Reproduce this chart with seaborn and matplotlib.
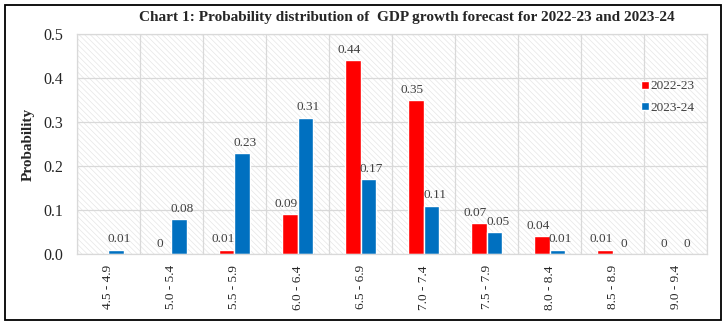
import numpy as np
import pandas as pd
import matplotlib
matplotlib.use("Agg")
import matplotlib.pyplot as plt
from matplotlib.patches import Rectangle
import seaborn as sns

# Growth ranges and probability of each outcome
categories = ["4.5 - 4.9", "5.0 - 5.4", "5.5 - 5.9", "6.0 - 6.4", "6.5 - 6.9",
              "7.0 - 7.4", "7.5 - 7.9", "8.0 - 8.4", "8.5 - 8.9", "9.0 - 9.4"]
series_names = ["2022-23", "2023-24"]
prob_2022_23 = [np.nan, 0, 0.01, 0.09, 0.44, 0.35, 0.07, 0.04, 0.01, 0]
prob_2023_24 = [0.01, 0.08, 0.23, 0.31, 0.17, 0.11, 0.05, 0.01, 0, 0]
y_ticks = [0.0, 0.1, 0.2, 0.3, 0.4, 0.5]

df = pd.DataFrame({
    "range": categories * 2,
    "year": [series_names[0]] * len(categories) + [series_names[1]] * len(categories),
    "prob": prob_2022_23 + prob_2023_24,
}).dropna()

sns.set_theme(style="white")
plt.rcParams["font.family"] = ["Liberation Serif", "DejaVu Serif"]
plt.rcParams["hatch.linewidth"] = 0.5

fig = plt.figure(figsize=(7.26, 3.24), dpi=100)
ax = fig.add_axes([0.106, 0.216, 0.868, 0.679])
ax.patch.set_alpha(0)

# hatched plot area
ax.add_patch(Rectangle((0, 0), 1, 1, transform=ax.transAxes, facecolor="white",
                       edgecolor="#e6e6e6", hatch="\\" * 6, lw=0, zorder=0.1))

palette = {"2022-23": "#FF0000", "2023-24": "#0070C0"}
sns.barplot(data=df, x="range", y="prob", hue="year", order=categories,
            hue_order=series_names, palette=palette, width=0.48, saturation=1,
            ax=ax, zorder=2)

# value labels, nudged sideways so neighbouring labels do not collide
for cont, dx in zip(ax.containers, (-3.0, 2.5)):
    anns = ax.bar_label(cont, labels=[f"{v:g}" for v in cont.datavalues],
                        padding=3, fontsize=9.5, color="#404040")
    for a in anns:
        a.xyann = (dx, 3)

ax.set_xlim(-0.5, len(categories) - 0.5)
ax.set_ylim(0, 0.5)
ax.set_yticks(y_ticks)
ax.set_yticklabels([f"{t:.1f}" for t in y_ticks], fontsize=11.5, color="#262626")
ax.set_xticks(range(len(categories)))
ax.set_xticklabels(categories, rotation=90, fontsize=9.5, color="#262626")
ax.set_xticks(np.arange(-0.5, len(categories), 1), minor=True)
ax.tick_params(axis="both", which="both", length=0)
ax.tick_params(axis="x", pad=8)
ax.tick_params(axis="y", pad=10)

ax.set_axisbelow(True)
ax.grid(axis="y", which="major", color="#d9d9d9", lw=0.9)
ax.grid(axis="x", which="minor", color="#d9d9d9", lw=0.9)
ax.grid(axis="x", which="major", visible=False)
for s in ax.spines.values():
    s.set_color("#d9d9d9")
    s.set_linewidth(0.9)

ax.set_xlabel("")
ax.set_ylabel("Probability", fontsize=11, fontweight="bold", labelpad=6)

ax.legend(loc="upper left", bbox_to_anchor=(0.885, 0.82), frameon=False,
          fontsize=9.5, handlelength=0.55, handleheight=0.55, handletextpad=0.15,
          labelspacing=0.75, borderpad=0, labelcolor="#404040")

fig.text(0.56, 0.947, "Chart 1: Probability distribution of  GDP growth forecast for 2022-23 and 2023-24",
         ha="center", va="center", fontsize=11, fontweight="bold")

# frame around the whole figure
fig.patches.append(Rectangle((5 / 726, 4 / 324), 716 / 726, 315 / 324,
                             transform=fig.transFigure, fill=False,
                             edgecolor="black", lw=1.3))

fig.savefig("out.png", dpi=100)
